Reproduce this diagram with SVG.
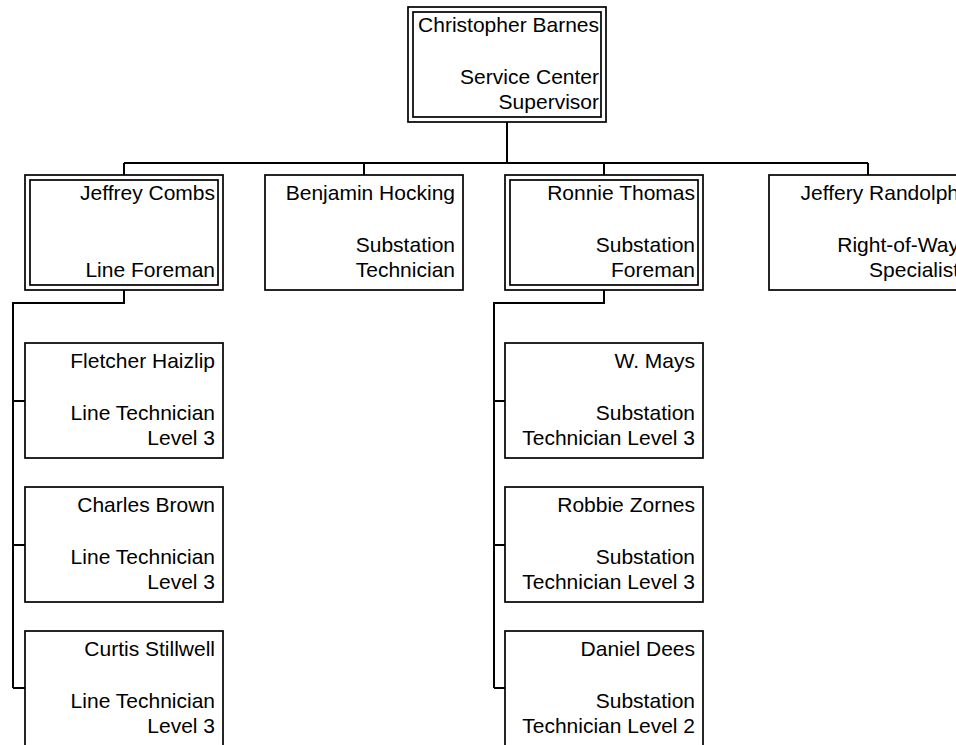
<svg xmlns="http://www.w3.org/2000/svg" width="956" height="745" viewBox="0 0 956 745">
<style>
rect.b{fill:#fff;stroke:#000;stroke-width:1.7}
rect.i{fill:none;stroke:#000;stroke-width:1.7}
text{font-family:"Liberation Sans",Arial,sans-serif;font-size:21px;fill:#000;text-anchor:end}
#connectors path{fill:none;stroke:#000;stroke-width:2}
</style>
<rect width="956" height="745" fill="#fff"/>
<g id="connectors">
<path d="M507,122V163M124,163H868M124,163V175M364,163V175M604,163V175M868,163V175"/>
<path d="M124,290V303H13V688M13,401H25M13,545H25M13,688H25"/>
<path d="M604,290V303H494V688M494,401H505M494,545H505M494,688H505"/>
</g>
<g id="n-barnes">
<rect class="b" x="408" y="7" width="198" height="115"/><rect class="i" x="413" y="12" width="188" height="105"/>
<text x="599" y="32">Christopher Barnes</text><text x="599" y="84">Service Center</text><text x="599" y="109">Supervisor</text>
</g>
<g id="n-combs">
<rect class="b" x="25" y="175" width="198" height="115"/><rect class="i" x="30" y="180" width="188" height="105"/>
<text x="215" y="200">Jeffrey Combs</text><text x="215" y="277">Line Foreman</text>
</g>
<g id="n-hocking">
<rect class="b" x="265" y="175" width="198" height="115"/>
<text x="455" y="200">Benjamin Hocking</text><text x="455" y="252">Substation</text><text x="455" y="277">Technician</text>
</g>
<g id="n-thomas">
<rect class="b" x="505" y="175" width="198" height="115"/><rect class="i" x="510" y="180" width="188" height="105"/>
<text x="695" y="200">Ronnie Thomas</text><text x="695" y="252">Substation</text><text x="695" y="277">Foreman</text>
</g>
<g id="n-randolph">
<rect class="b" x="769" y="175" width="198" height="115"/>
<text x="959" y="200">Jeffery Randolph</text><text x="959" y="252">Right-of-Way</text><text x="959" y="277">Specialist</text>
</g>
<g id="n-haizlip">
<rect class="b" x="25" y="343" width="198" height="115"/>
<text x="215" y="368">Fletcher Haizlip</text><text x="215" y="420">Line Technician</text><text x="215" y="445">Level 3</text>
</g>
<g id="n-brown">
<rect class="b" x="25" y="487" width="198" height="115"/>
<text x="215" y="512">Charles Brown</text><text x="215" y="564">Line Technician</text><text x="215" y="589">Level 3</text>
</g>
<g id="n-stillwell">
<rect class="b" x="25" y="631" width="198" height="115"/>
<text x="215" y="656">Curtis Stillwell</text><text x="215" y="708">Line Technician</text><text x="215" y="733">Level 3</text>
</g>
<g id="n-mays">
<rect class="b" x="505" y="343" width="198" height="115"/>
<text x="695" y="368">W. Mays</text><text x="695" y="420">Substation</text><text x="695" y="445">Technician Level 3</text>
</g>
<g id="n-zornes">
<rect class="b" x="505" y="487" width="198" height="115"/>
<text x="695" y="512">Robbie Zornes</text><text x="695" y="564">Substation</text><text x="695" y="589">Technician Level 3</text>
</g>
<g id="n-dees">
<rect class="b" x="505" y="631" width="198" height="115"/>
<text x="695" y="656">Daniel Dees</text><text x="695" y="708">Substation</text><text x="695" y="733">Technician Level 2</text>
</g>
</svg>
